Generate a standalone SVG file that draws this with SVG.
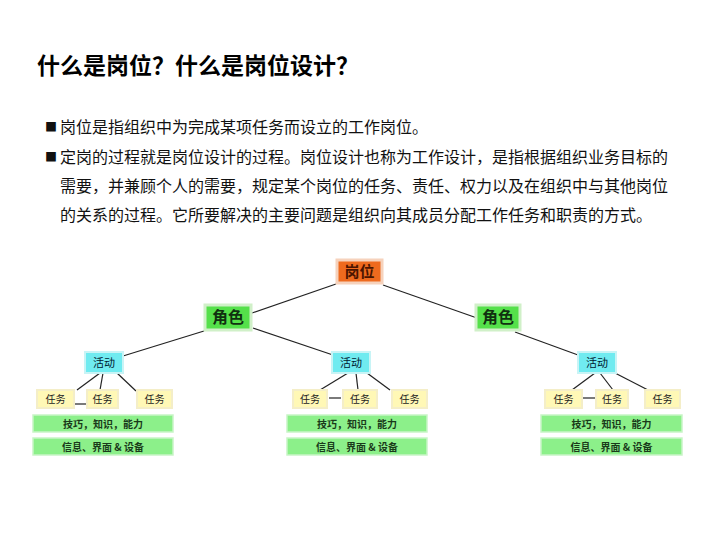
<svg xmlns="http://www.w3.org/2000/svg" width="720" height="540" viewBox="0 0 720 540">
<style>
.cjk{font-family:"Noto Sans CJK SC","Liberation Sans",sans-serif}
.title{font-size:23px;font-weight:bold;fill:#000}
.body{font-size:16px;fill:#111}
.bul{font-size:12px;fill:#111}
.ln{stroke:#222;stroke-width:1.2;fill:none}
.gw{fill:#ee6a1e;stroke:#f6d2bc;stroke-width:3}
.js{fill:#55e04a;stroke:#d0f0c8;stroke-width:3}
.hd{fill:#70ebf0;stroke:#c8f4f6;stroke-width:2}
.rw{fill:#fff8b6;stroke:#f4eec8;stroke-width:2}
.bar{fill:#8cf08a;stroke:#c8f5c6;stroke-width:1.5}
.t1{font-size:15px;font-weight:bold;fill:#4a1400;text-anchor:middle}
.t2{font-size:16px;font-weight:bold;fill:#103010;text-anchor:middle}
.t3{font-size:11px;fill:#002030;text-anchor:middle}
.t4{font-size:10px;fill:#222;text-anchor:middle}
.t5{font-size:10px;font-weight:bold;fill:#1a3a1a;text-anchor:middle}
</style>
<rect width="720" height="540" fill="#fff"/>
<text class="cjk title" x="37" y="74">什么是岗位？什么是岗位设计？</text>
<g class="cjk">
<text class="bul" x="45" y="132">■</text>
<text class="body" x="60" y="133">岗位是指组织中为完成某项任务而设立的工作岗位。</text>
<text class="bul" x="45" y="162">■</text>
<text class="body" x="60" y="163">定岗的过程就是岗位设计的过程。岗位设计也称为工作设计，是指根据组织业务目标的</text>
<text class="body" x="60" y="192">需要，并兼顾个人的需要，规定某个岗位的任务、责任、权力以及在组织中与其他岗位</text>
<text class="body" x="60" y="221">的关系的过程。它所要解决的主要问题是组织向其成员分配工作任务和职责的方式。</text>
</g>
<g id="connectors">
<line class="ln" x1="336" y1="284" x2="252" y2="313"/>
<line class="ln" x1="383" y1="285" x2="477" y2="318"/>
<line class="ln" x1="204" y1="331" x2="123" y2="356"/>
<line class="ln" x1="253" y1="328" x2="333" y2="355"/>
<line class="ln" x1="515" y1="332" x2="578" y2="355"/>
<line class="ln" x1="100" y1="373" x2="77" y2="390"/>
<line class="ln" x1="103" y1="373" x2="100" y2="390"/>
<line class="ln" x1="117" y1="373" x2="136" y2="391"/>
<line class="ln" x1="75" y1="404" x2="87" y2="404"/>
<line class="ln" x1="348" y1="373" x2="320" y2="390"/>
<line class="ln" x1="356" y1="373" x2="358" y2="390"/>
<line class="ln" x1="367" y1="373" x2="390" y2="390"/>
<line class="ln" x1="329" y1="398" x2="341" y2="398"/>
<line class="ln" x1="595" y1="373" x2="572" y2="390"/>
<line class="ln" x1="600" y1="373" x2="613" y2="390"/>
<line class="ln" x1="615" y1="373" x2="648" y2="390"/>
<line class="ln" x1="583" y1="398" x2="595" y2="398"/>
</g>
<g id="gangwei" class="cjk"><rect class="gw" x="337" y="260" width="45" height="23"/><text class="t1" x="359.5" y="277">岗位</text></g>
<g id="juese-left" class="cjk"><rect class="js" x="205" y="305" width="46" height="25"/><text class="t2" x="228" y="323">角色</text></g>
<g id="juese-right" class="cjk"><rect class="js" x="476" y="305" width="44" height="25"/><text class="t2" x="498" y="323">角色</text></g>
<g id="huodong-1" class="cjk"><rect class="hd" x="85" y="352" width="38" height="21"/><text class="t3" x="104" y="366.5">活动</text></g>
<g id="huodong-2" class="cjk"><rect class="hd" x="332" y="352" width="38" height="21"/><text class="t3" x="351" y="366.5">活动</text></g>
<g id="huodong-3" class="cjk"><rect class="hd" x="578" y="352" width="38" height="21"/><text class="t3" x="597" y="366.5">活动</text></g>
<g id="renwu-1a" class="cjk"><rect class="rw" x="37" y="390" width="37" height="18"/><text class="t4" x="55.5" y="403">任务</text></g>
<g id="renwu-1b" class="cjk"><rect class="rw" x="87" y="390" width="31" height="18"/><text class="t4" x="102.5" y="403">任务</text></g>
<g id="renwu-1c" class="cjk"><rect class="rw" x="137" y="390" width="35" height="18"/><text class="t4" x="154.5" y="403">任务</text></g>
<g id="renwu-2a" class="cjk"><rect class="rw" x="293" y="390" width="34" height="18"/><text class="t4" x="310" y="403">任务</text></g>
<g id="renwu-2b" class="cjk"><rect class="rw" x="343" y="390" width="34" height="18"/><text class="t4" x="360" y="403">任务</text></g>
<g id="renwu-2c" class="cjk"><rect class="rw" x="392" y="390" width="35" height="18"/><text class="t4" x="409.5" y="403">任务</text></g>
<g id="renwu-3a" class="cjk"><rect class="rw" x="545" y="390" width="37" height="18"/><text class="t4" x="563.5" y="403">任务</text></g>
<g id="renwu-3b" class="cjk"><rect class="rw" x="596" y="390" width="32" height="18"/><text class="t4" x="612" y="403">任务</text></g>
<g id="renwu-3c" class="cjk"><rect class="rw" x="645" y="390" width="35" height="18"/><text class="t4" x="662.5" y="403">任务</text></g>
<g id="skill-1" class="cjk"><rect class="bar" x="33" y="415" width="140" height="17"/><text class="t5" x="103" y="427.5">技巧，知识，能力</text></g>
<g id="info-1" class="cjk"><rect class="bar" x="33" y="438" width="140" height="17"/><text class="t5" x="103" y="450.5">信息、界面 &amp; 设备</text></g>
<g id="skill-2" class="cjk"><rect class="bar" x="287" y="415" width="140" height="17"/><text class="t5" x="357" y="427.5">技巧，知识，能力</text></g>
<g id="info-2" class="cjk"><rect class="bar" x="287" y="438" width="140" height="17"/><text class="t5" x="357" y="450.5">信息、界面 &amp; 设备</text></g>
<g id="skill-3" class="cjk"><rect class="bar" x="541" y="415" width="141" height="17"/><text class="t5" x="611.5" y="427.5">技巧，知识，能力</text></g>
<g id="info-3" class="cjk"><rect class="bar" x="541" y="438" width="141" height="17"/><text class="t5" x="611.5" y="450.5">信息、界面 &amp; 设备</text></g>
</svg>
